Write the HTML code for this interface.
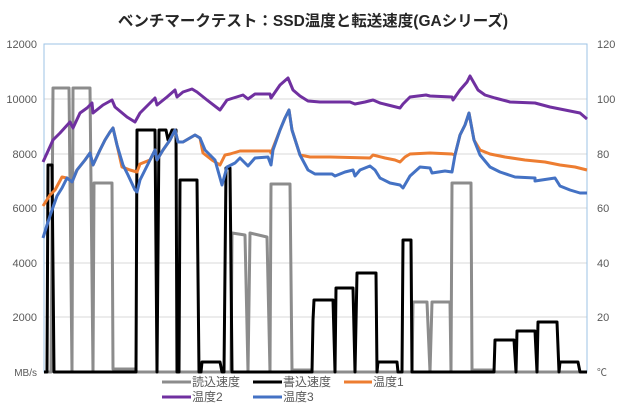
<!DOCTYPE html>
<html><head><meta charset="utf-8"><style>
html,body{margin:0;padding:0;background:#fff;}
svg{display:block;}
text{font-family:"Liberation Sans","Noto Sans CJK JP",sans-serif;}
</style></head><body>
<svg width="620" height="410" viewBox="0 0 620 410" xmlns="http://www.w3.org/2000/svg">
<rect width="620" height="410" fill="#fff"/>
<text x="313" y="26" text-anchor="middle" font-size="15.5" font-weight="bold" fill="#262626">ベンチマークテスト：SSD温度と転送速度(GAシリーズ)</text>
<g stroke="#d9d9d9" stroke-width="1">
<line x1="44" y1="99" x2="587" y2="99"/><line x1="44" y1="154" x2="587" y2="154"/>
<line x1="44" y1="208" x2="587" y2="208"/><line x1="44" y1="263" x2="587" y2="263"/>
<line x1="44" y1="317" x2="587" y2="317"/>
</g>
<rect x="44" y="44" width="543" height="328" fill="none" stroke="#9dc3e6" stroke-width="1"/>
<g font-size="11" fill="#595959" text-anchor="end">
<text x="37" y="48">12000</text><text x="37" y="103">10000</text><text x="37" y="158">8000</text>
<text x="37" y="212">6000</text><text x="37" y="267">4000</text><text x="37" y="321">2000</text>
<text x="37" y="376" font-size="10">MB/s</text>
</g>
<g font-size="11" fill="#595959">
<text x="597" y="48">120</text><text x="597" y="103">100</text><text x="597" y="158">80</text>
<text x="597" y="212">60</text><text x="597" y="267">40</text><text x="597" y="321">20</text>
<text x="597" y="376" font-size="10">℃</text>
</g>
<g fill="none" stroke-width="3" stroke-linejoin="round">
<polyline stroke="#8c8c8c" points="44,372 51,372 53,88 69,88 72,372 73,88 90,88 93,372 94,183 112,183 113,369 135,369 137,372 231,372 232,233 245,235 248,372 250,233 267,237 270,372 271,184 290,184 292,370 311,370 313,372 412,372 413,302 427,302 430,372 432,302 450,302 451,372 452,183 471,183 472,370 493,370 495,372 587,372"/>
<polyline stroke="#000" points="44,372 47,372 48,165 52,165 54,372 136,372 137,130 155,130 157,372 159,130 166,130 168,140 172,130 176,130 177,372 179,372 180,180 197,180 199,372 201,372 202,362 220,362 222,372 224,372 226,168 230,168 232,372 312,372 313,320 314,300 333,300 335,372 336,288 353,288 355,372 357,273 376,273 377,372 378,362 397,362 398,372 402,372 403,240 411,240 412,372 494,372 495,340 514,340 516,372 517,331 535,331 537,372 538,322 557,322 559,372 560,362 578,362 580,372 587,372"/>
<polyline stroke="#ed7d31" points="43,206 50,195 55,190 62,177 67,178 72,182 77,170 85,160 90,153 93,165 100,150 105,140 110,132 113,128 117,145 122,167 130,170 137,172 140,164 150,160 155,150 157,160 163,150 170,140 175,130 178,142 183,142 195,135 200,138 203,153 212,160 220,165 225,155 230,154 240,151 270,151 271,153 280,130 285,118 289,110 292,130 300,155 310,157 330,157 370,158 373,155 385,158 395,160 400,162 405,157 410,154 430,153 452,154 455,155 460,135 465,125 469,113 474,140 480,150 490,154 505,157 525,160 545,162 560,165 575,167 587,170"/>
<polyline stroke="#7030a0" points="43,162 53,140 60,133 70,122 73,128 80,113 87,108 92,103 93,113 103,105 112,100 115,107 127,117 135,122 140,113 150,103 155,98 157,105 167,97 175,90 177,97 183,92 192,89 197,92 207,100 220,110 227,100 243,95 248,99 255,94 270,94 271,98 280,85 288,78 293,90 300,96 308,101 320,102 350,102 355,104 365,102 373,100 380,103 388,105 400,108 403,104 410,97 426,95 430,96 452,97 453,100 460,90 467,82 470,76 478,90 485,95 495,98 510,102 535,103 550,107 565,110 580,113 587,119"/>
<polyline stroke="#4472c4" points="43,238 47,225 52,210 57,196 62,188 67,178 72,182 77,170 85,160 90,153 93,165 100,150 105,140 110,132 113,128 117,145 123,165 128,175 135,190 137,192 140,180 150,160 155,150 157,160 163,150 170,140 175,130 178,142 183,142 195,135 200,138 205,150 215,160 222,185 227,167 235,163 240,158 248,166 255,158 268,157 271,165 273,150 280,130 285,118 289,110 292,130 300,155 308,170 315,174 332,174 335,176 345,172 353,170 355,176 360,170 370,166 375,170 380,178 390,183 400,185 403,188 410,176 420,167 430,168 432,173 445,171 452,172 455,155 460,135 465,125 469,113 474,140 480,155 490,167 500,172 515,177 535,178 535,181 555,178 560,186 570,190 580,193 587,193"/>
</g>
<g stroke-width="3">
<line x1="162" y1="382" x2="191" y2="382" stroke="#8c8c8c"/>
<line x1="253" y1="382" x2="282" y2="382" stroke="#000"/>
<line x1="344" y1="382" x2="372" y2="382" stroke="#ed7d31"/>
<line x1="162" y1="397" x2="191" y2="397" stroke="#7030a0"/>
<line x1="253" y1="397" x2="282" y2="397" stroke="#4472c4"/>
</g>
<g font-size="12" fill="#595959">
<text x="192" y="386">読込速度</text><text x="283" y="386">書込速度</text><text x="373" y="386">温度1</text>
<text x="192" y="401">温度2</text><text x="283" y="401">温度3</text>
</g>
</svg>
</body></html>
